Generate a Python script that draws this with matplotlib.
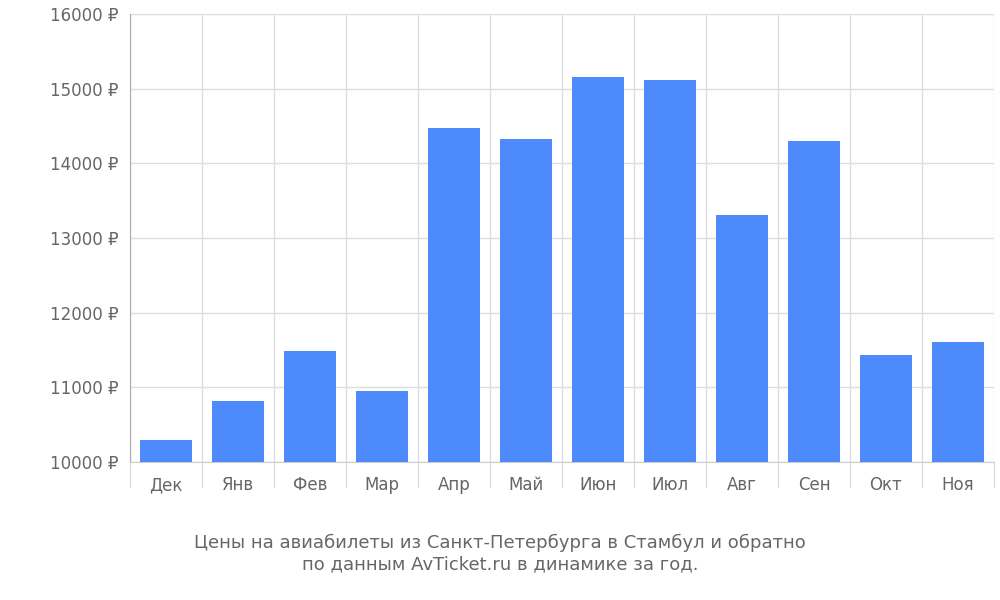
import matplotlib.pyplot as plt
import numpy as np
from matplotlib.ticker import FixedLocator

months = ["Дек", "Янв", "Фев", "Мар", "Апр", "Май", "Июн", "Июл", "Авг", "Сен", "Окт", "Ноя"]
prices = [10290, 10820, 11480, 10950, 14470, 14330, 15150, 15120, 13310, 14300, 11430, 11610]
yticks = [10000, 11000, 12000, 13000, 14000, 15000, 16000]

fig = plt.figure(figsize=(10, 6), dpi=100)
ax = fig.add_axes([0.13, 0.23, 0.864, 0.7467])

x = np.arange(len(months))
ax.bar(x, [p - 10000 for p in prices], bottom=10000, width=0.72, color="#4d8afc", zorder=3)

ax.set_xlim(-0.5, len(months) - 0.5)
ax.set_ylim(10000, 16000)
ax.set_yticks(yticks)
ax.set_yticklabels([f"{v} ₽" for v in yticks])
ax.set_xticks(x)
ax.set_xticklabels(months)
ax.xaxis.set_minor_locator(FixedLocator(np.arange(-0.5, len(months), 1)))

ax.grid(True, axis="y", color="#dddddd", linewidth=1, zorder=0)
ax.grid(True, axis="x", which="minor", color="#dddddd", linewidth=1, zorder=0)
ax.tick_params(axis="x", which="major", length=0, labelsize=12, colors="#666666", pad=10)
ax.tick_params(axis="x", which="minor", length=18, color="#cccccc")
ax.tick_params(axis="y", length=0, labelsize=12, colors="#666666", pad=8)
for side in ["top", "right"]:
    ax.spines[side].set_visible(False)
ax.spines["left"].set_color("#aaaaaa")
ax.spines["bottom"].set_color("#cccccc")

fig.text(0.5, 0.045, "Цены на авиабилеты из Санкт-Петербурга в Стамбул и обратно\nпо данным AvTicket.ru в динамике за год.",
         ha="center", va="bottom", fontsize=13, color="#666666", linespacing=1.2)

fig.savefig("out.png")
